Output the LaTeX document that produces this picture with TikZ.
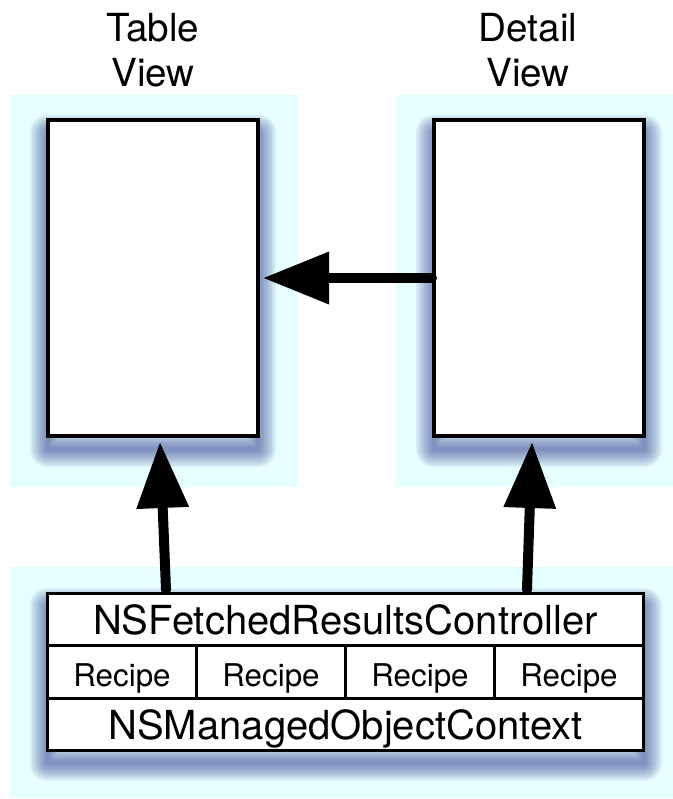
\documentclass[tikz,border=0pt]{standalone}
\usepackage{fontspec}
\setmainfont{TeX Gyre Heros}
\usepackage{tikz}
\usetikzlibrary{arrows.meta,positioning,backgrounds}
\definecolor{panel}{HTML}{E6FFFF}
\definecolor{shade}{HTML}{26348C}
\tikzset{
  backdrop/.style={fill=panel, draw=none, inner sep=0pt, outer sep=0pt},
  shadowring/.style={draw=shade, draw opacity=.08, line join=round},
  viewbox/.style={
    draw, line width=3pt, fill=white, inner sep=0pt, outer sep=0pt,
    minimum width=157.5pt, minimum height=237pt
  },
  title/.style={align=center, inner sep=0pt, font=\fontsize{29}{33.75}\selectfont},
  row/.style={
    draw, line width=2.25pt, inner sep=0pt, outer sep=0pt, minimum width=447pt,
    minimum height=39.25pt, text depth=0pt, font=\fontsize{30}{36}\selectfont
  },
  cell/.style={row, minimum width=111.75pt, text height=21.5pt,
    font=\fontsize{23.5}{28}\selectfont},
  arrow/.style={line width=7.5pt, line cap=round, -{Triangle[length=49.5pt,width=37.5pt]}},
}
\begin{document}
\begin{tikzpicture}[x=0.75pt, y=-0.75pt]
  \useasboundingbox (0,0) rectangle (673,799);
  % views
  \node[viewbox] (tv) at (153,278) {};
  \node[viewbox] (dv) at (539,278) {};
  % controller and context
  \node[row, fill=white, minimum height=117.75pt] (ctx) at (345.5,672) {};
  \node[row, anchor=north] (frc) at (ctx.north) {NSFetchedResultsController};
  \node[cell, anchor=north west] (r1) at (frc.south west) {Recipe};
  \node[cell, right=0pt of r1] (r2) {Recipe};
  \node[cell, right=0pt of r2] (r3) {Recipe};
  \node[cell, right=0pt of r3] (r4) {Recipe};
  \node[row, anchor=south] (moc) at (ctx.south) {NSManagedObjectContext};
  % backdrops and soft shadows
  \begin{scope}[on background layer]
    \node[backdrop, minimum width=216pt, minimum height=294pt] (lp) at (153,291) {};
    \node[backdrop, minimum width=216pt, minimum height=294pt] (rp) at (539,291) {};
    \node[backdrop, minimum width=505.5pt, minimum height=173.25pt] (bp) at (346,682.5) {};
    \foreach \n in {tv,dv,ctx}
      \foreach \w in {3,6,...,27}
        \draw[shadowring, line width=\w pt] ([yshift=-9.5pt]\n.south west) rectangle ([yshift=-9.5pt]\n.north east);
  \end{scope}
  \node[title, above=6pt of lp] (tvl) {Table\\View};
  \node[title, above=6pt of rp, xshift=-8.25pt] (dvl) {Detail\\View};
  \draw[arrow] ([xshift=88.9pt, yshift=2.5pt]ctx.north west) -- ([xshift=5.25pt, yshift=-4.5pt]tv.south);
  \draw[arrow] ([xshift=359.6pt, yshift=2.5pt]ctx.north west) -- ([xshift=-5.25pt, yshift=-4.5pt]dv.south);
  \draw[arrow] ([xshift=-1.5pt]dv.west) -- ([xshift=3.75pt]tv.east);
\end{tikzpicture}
\end{document}
